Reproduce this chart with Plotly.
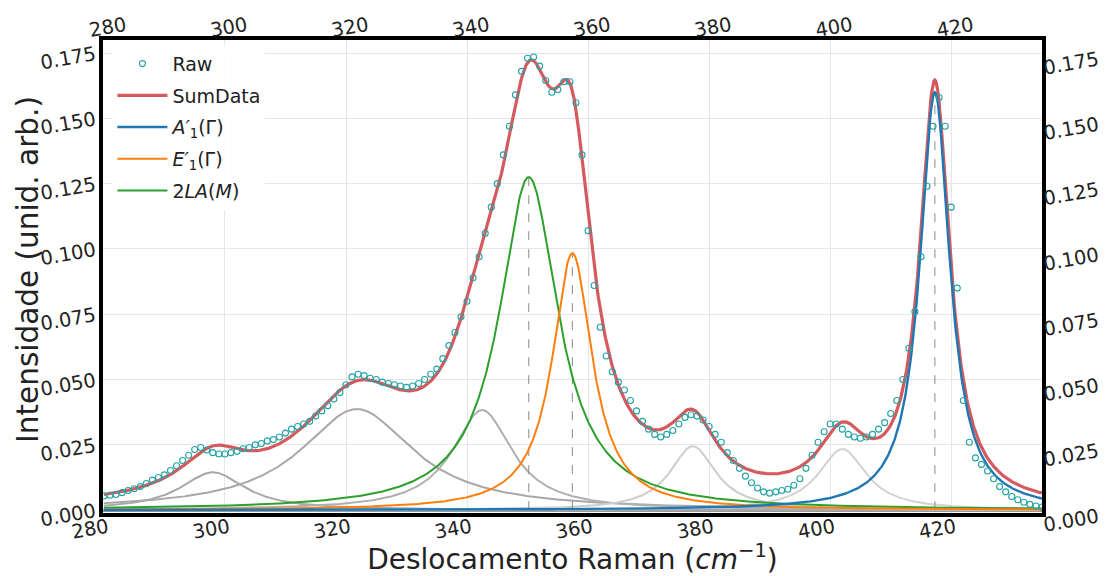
import numpy as np
import plotly.graph_objects as go

# ---------------- data ----------------
raman_shift = list(range(280, 436))
raw_intensity = [
    0.0054, 0.0057, 0.0060, 0.0067, 0.0075, 0.0082, 0.0090, 0.0102, 0.0115, 0.0125,  # 280-289
    0.0135, 0.0152, 0.0170, 0.0190, 0.0210, 0.0232, 0.0240, 0.0230, 0.0220, 0.0215,  # 290-299
    0.0215, 0.0220, 0.0225, 0.0235, 0.0240, 0.0250, 0.0255, 0.0265, 0.0270, 0.0280,  # 300-309
    0.0295, 0.0310, 0.0320, 0.0330, 0.0340, 0.0360, 0.0380, 0.0400, 0.0425, 0.0450,  # 310-319
    0.0480, 0.0510, 0.0520, 0.0515, 0.0505, 0.0500, 0.0490, 0.0485, 0.0480, 0.0475,  # 320-329
    0.0470, 0.0475, 0.0485, 0.0500, 0.0520, 0.0540, 0.0580, 0.0630, 0.0680, 0.0740,  # 330-339
    0.0800, 0.0890, 0.0970, 0.1060, 0.1160, 0.1250, 0.1360, 0.1470, 0.1590, 0.1680,  # 340-349
    0.1730, 0.1735, 0.1700, 0.1645, 0.1600, 0.1610, 0.1640, 0.1640, 0.1560, 0.1360,  # 350-359
    0.1070, 0.0860, 0.0700, 0.0590, 0.0530, 0.0490, 0.0460, 0.0420, 0.0380, 0.0340,  # 360-369
    0.0310, 0.0290, 0.0280, 0.0290, 0.0305, 0.0330, 0.0355, 0.0365, 0.0360, 0.0345,  # 370-379
    0.0320, 0.0290, 0.0260, 0.0220, 0.0190, 0.0160, 0.0130, 0.0105, 0.0085, 0.0070,  # 380-389
    0.0065, 0.0070, 0.0075, 0.0080, 0.0095, 0.0120, 0.0160, 0.0210, 0.0260, 0.0300,  # 390-399
    0.0330, 0.0330, 0.0310, 0.0290, 0.0280, 0.0275, 0.0280, 0.0290, 0.0310, 0.0335,  # 400-409
    0.0370, 0.0420, 0.0500, 0.0620, 0.0760, 0.0970, 0.1240, 0.1470, 0.1580, 0.1470,  # 410-419
    0.1160, 0.0850, 0.0420, 0.0260, 0.0200, 0.0175, 0.0150, 0.0120, 0.0090, 0.0070,  # 420-429
    0.0052, 0.0040, 0.0030, 0.0022, 0.0016, 0.0012,                                  # 430-435
]

# Lorentzian fit components (center, height, half width)
peak_labels = ["g1", "g2", "g3", "2LA(M)", "E'1(G)", "g4", "g5", "A'1(G)"]
peak_centers = [298.0, 321.8, 342.5, 350.2, 357.4, 377.3, 402.0, 417.3]
peak_heights = [0.0145, 0.0387, 0.0383, 0.1275, 0.0984, 0.0245, 0.0234, 0.1600]
peak_hwhm = [6.5, 11.3, 6.0, 5.9, 4.0, 4.6, 4.8, 3.0]

x_ticks = [280, 300, 320, 340, 360, 380, 400, 420]
y_ticks = [0.0, 0.025, 0.05, 0.075, 0.1, 0.125, 0.15, 0.175]

# ---------------- model ----------------
xf = np.linspace(280, 435, 1200)


def lorentz(x, c, h, w):
    return h / (1.0 + ((x - c) / w) ** 2)


comps = [lorentz(xf, c, h, w) for c, h, w in zip(peak_centers, peak_heights, peak_hwhm)]
sum_data = np.sum(comps, axis=0)

FONT = "DejaVu Sans, sans-serif"
fig = go.Figure()

# gray unassigned components
gray_style = {0: "#a8a8a8", 1: "#a8a8a8", 2: "#b0b0b0", 5: "#cdcdcd", 6: "#d2d2d2"}
for i, col in gray_style.items():
    fig.add_trace(go.Scatter(x=xf, y=comps[i], mode="lines",
                             line=dict(color=col, width=2), showlegend=False,
                             hoverinfo="skip"))

# dashed markers at labelled peaks
for i in (3, 4, 7):
    fig.add_trace(go.Scatter(x=[peak_centers[i], peak_centers[i]], y=[0, peak_heights[i]],
                             mode="lines", line=dict(color="#8a8a8a", width=1, dash="dash"),
                             showlegend=False, hoverinfo="skip"))

fig.add_trace(go.Scatter(x=xf, y=comps[3], mode="lines", name="2<i>LA</i>(<i>M</i>)",
                         line=dict(color="#2ca02c", width=2), legendrank=5, legendgroup="e"))
fig.add_trace(go.Scatter(x=xf, y=comps[4], mode="lines", name="<i>E′</i><sub>1</sub>(Γ)",
                         line=dict(color="#ff7f0e", width=2), legendrank=4, legendgroup="d"))
fig.add_trace(go.Scatter(x=xf, y=sum_data, mode="lines", name="SumData",
                         line=dict(color="#d45a5e", width=3.2), legendrank=2, legendgroup="b"))
fig.add_trace(go.Scatter(x=xf, y=comps[7], mode="lines", name="<i>A′</i><sub>1</sub>(Γ)",
                         line=dict(color="#1f77b4", width=2.4), legendrank=3, legendgroup="c"))
fig.add_trace(go.Scatter(x=raman_shift, y=raw_intensity, mode="markers", name="Raw",
                         marker=dict(symbol="circle-open", size=6, color="#23a3a3",
                                     line=dict(width=1.1)),
                         legendrank=1, legendgroup="a"))
# invisible trace to activate the mirrored (top / right) axes
fig.add_trace(go.Scatter(x=raman_shift, y=raw_intensity, xaxis="x2", yaxis="y2",
                         mode="markers", marker=dict(opacity=0), showlegend=False,
                         hoverinfo="skip"))

xr = [279.85, 435.0]
yr = [-0.0011, 0.180]
tickfont = dict(family=FONT, size=19.5, color="#222")
titlefont = dict(family=FONT, size=28, color="#222")

fig.update_layout(
    width=1107, height=576,
    margin=dict(l=103, r=65, t=40, b=63),
    plot_bgcolor="white", paper_bgcolor="white",
    font=dict(family=FONT, color="#222"),
    xaxis=dict(range=xr, autorange=False, tickvals=x_ticks, tickangle=-10, tickfont=tickfont,
               ticklabelshift=4, ticklabelstandoff=-8,
               showgrid=True, gridcolor="#e6e6e6", gridwidth=1,
               showline=True, linecolor="black", linewidth=4, mirror=True,
               ticks="", zeroline=False, automargin=False,
               title=dict(text="Deslocamento Raman (<i>cm</i><sup>−1</sup>)",
                          font=titlefont, standoff=2)),
    yaxis=dict(range=yr, autorange=False, tickvals=y_ticks, tickformat=".3f", tickangle=-10,
               tickfont=tickfont,
               showgrid=True, gridcolor="#e6e6e6", gridwidth=1,
               showline=True, linecolor="black", linewidth=4, mirror=True,
               ticks="", zeroline=True, zerolinecolor="#9a9a9a", zerolinewidth=3,
               automargin=False, title=dict(text="")),
    xaxis2=dict(range=xr, autorange=False, overlaying="x", side="top", tickvals=x_ticks,
                tickangle=-10, tickfont=tickfont, ticklabelshift=-15, ticklabelstandoff=-2,
                showgrid=False, ticks="",
                zeroline=False, showline=False, automargin=False),
    yaxis2=dict(range=yr, autorange=False, overlaying="y", side="right", tickvals=y_ticks,
                tickformat=".3f", tickangle=-10, tickfont=tickfont, ticklabelshift=15,
                showgrid=False, ticks="", zeroline=False, showline=False, automargin=False),
    legend=dict(x=0.01, y=0.99, xanchor="left", yanchor="top",
                bgcolor="rgba(255,255,255,0.85)", borderwidth=0,
                font=dict(family=FONT, size=19, color="#222"),
                itemwidth=50, tracegroupgap=4, traceorder="grouped"),
    annotations=[dict(text="Intensidade (unid. arb.)", textangle=-90,
                      xref="paper", yref="paper", x=-0.0799, y=0.516,
                      xanchor="center", yanchor="middle", showarrow=False,
                      font=dict(family=FONT, size=29.5, color="#222"))],
)

fig.write_html("out.html", config={"displayModeBar": False},
               post_script="document.body.style.margin='0';document.body.style.padding='0';")
